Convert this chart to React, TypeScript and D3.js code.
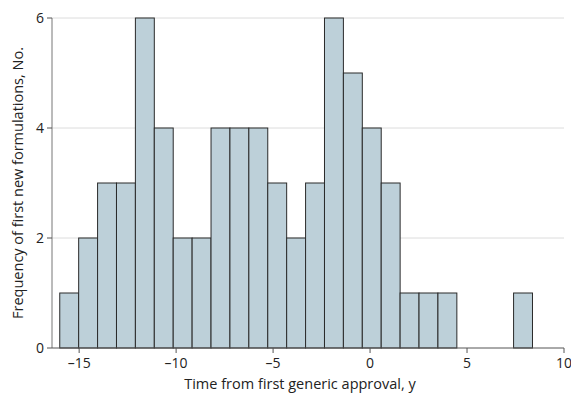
import React from "react";
import * as d3 from "d3";

const binStart = -16;
const binWidth = 0.975;
const counts = [1, 2, 3, 3, 6, 4, 2, 2, 4, 4, 4, 3, 2, 3, 6, 5, 4, 3, 1, 1, 1, 0, 0, 0, 1];
const xTicks = [-15, -10, -5, 0, 5, 10];
const yTicks = [0, 2, 4, 6];
const xLabel = "Time from first generic approval, y";
const yLabel = "Frequency of first new formulations, No.";

export default function App() {
  const W = 571, H = 400;
  const left = 52, right = 564, top = 18, bottom = 348;
  const x = d3.scaleLinear().domain([-16.4, 10]).range([left, right]);
  const y = d3.scaleLinear().domain([0, 6]).range([bottom, top]);
  const font = "'Open Sans', Roboto, sans-serif";
  const fmt = (v: number) => (v < 0 ? "\u2013" + Math.abs(v) : String(v));
  return (
    <svg width={W} height={H} style={{ position: "absolute", left: 0, top: 0 }} fontFamily={font}>
      <rect width={W} height={H} fill="#fff" />
      {yTicks.filter((t) => t > 0).map((t) => (
        <line key={t} x1={left} x2={right} y1={y(t)} y2={y(t)} stroke="#dcdcdc" strokeWidth={1} />
      ))}
      {counts.map((c, i) =>
        c > 0 ? (
          <rect
            key={i}
            x={x(binStart + i * binWidth)}
            y={y(c)}
            width={x(binStart + (i + 1) * binWidth) - x(binStart + i * binWidth)}
            height={y(0) - y(c)}
            fill="#bdd0d9"
            stroke="#2a2a2a"
            strokeWidth={1}
          />
        ) : null
      )}
      <line x1={left} x2={left} y1={top} y2={bottom} stroke="#777" strokeWidth={1} />
      <line x1={left} x2={right} y1={bottom} y2={bottom} stroke="#555" strokeWidth={1} />
      {yTicks.map((t) => (
        <g key={t}>
          <line x1={left - 5} x2={left} y1={y(t)} y2={y(t)} stroke="#555" />
          <text x={left - 8} y={y(t)} dy="0.35em" textAnchor="end" fontSize={14} fill="#222">
            {t}
          </text>
        </g>
      ))}
      {xTicks.map((t) => (
        <g key={t}>
          <line x1={x(t)} x2={x(t)} y1={bottom} y2={bottom + 5} stroke="#555" />
          <text x={x(t)} y={bottom + 20} textAnchor="middle" fontSize={14} fill="#222">
            {fmt(t)}
          </text>
        </g>
      ))}
      <text x={300} y={389} textAnchor="middle" fontSize={14.5} fill="#222">
        {xLabel}
      </text>
      <text
        transform={`translate(23,${(top + bottom) / 2}) rotate(-90)`}
        textAnchor="middle"
        fontSize={14.5}
        fill="#222"
      >
        {yLabel}
      </text>
    </svg>
  );
}
